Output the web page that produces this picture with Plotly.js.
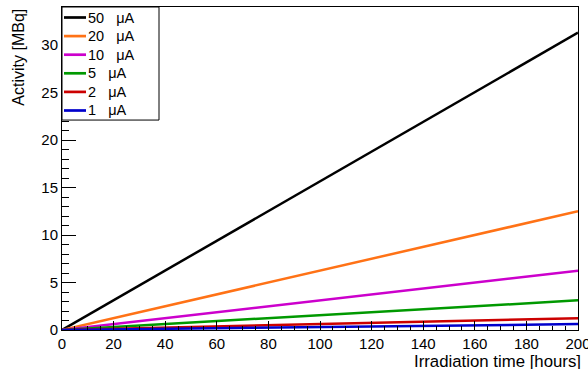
<!DOCTYPE html>
<html>
<head>
<meta charset="utf-8">
<script src="https://cdn.plot.ly/plotly-3.0.1.min.js"></script>
<style>html,body{margin:0;padding:0;background:#fff;overflow:hidden;}</style>
</head>
<body>
<div id="chart" style="width:588px;height:369px;"></div>
<script>
// Data
const hours = [0, 50, 100, 150, 200];
const seriesNames = ["50\u00a0\u00a0\u00a0\u03bcA", "20\u00a0\u00a0\u00a0\u03bcA", "10\u00a0\u00a0\u00a0\u03bcA", "5\u00a0\u00a0\u00a0\u03bcA", "2\u00a0\u00a0\u00a0\u03bcA", "1\u00a0\u00a0\u00a0\u03bcA"];
const act50 = [0, 7.83, 15.65, 23.48, 31.3];
const act20 = [0, 3.13, 6.26, 9.39, 12.5];
const act10 = [0, 1.56, 3.13, 4.69, 6.25];
const act5  = [0, 0.78, 1.56, 2.34, 3.12];
const act2  = [0, 0.31, 0.63, 0.94, 1.25];
const act1  = [0, 0.16, 0.31, 0.47, 0.62];
const seriesValues = [act50, act20, act10, act5, act2, act1];
const seriesColors = ["#000000", "#ff7216", "#cc00cc", "#009900", "#cc0000", "#0000cc"];

const FONT = "Liberation Sans, Arial, Helvetica, sans-serif";

const traces = seriesValues.map((vals, i) => ({
  x: hours, y: vals, type: "scatter", mode: "lines",
  name: seriesNames[i],
  line: {color: seriesColors[i], width: 2.5},
  showlegend: false, hoverinfo: "skip"
}));

// Manual ROOT-style legend (paper coordinates)
const shapes = [{
  type: "rect", xref: "paper", yref: "paper",
  x0: 0, x1: 0.188, y0: 0.65, y1: 1,
  line: {color: "#000", width: 1}, fillcolor: "rgba(255,255,255,1)", layer: "above"
}];
const annotations = [];
seriesNames.forEach((nm, i) => {
  const yc = 1 - (10.5 + i * 18.6) / 323;
  shapes.push({
    type: "line", xref: "paper", yref: "paper",
    x0: 2 / 516, x1: 24 / 516, y0: yc, y1: yc,
    line: {color: seriesColors[i], width: 2.7}, layer: "above"
  });
  annotations.push({
    xref: "paper", yref: "paper", x: 24 / 516, y: yc,
    xanchor: "left", yanchor: "middle", showarrow: false,
    text: nm, font: {family: FONT, size: 14.5, color: "#000"}
  });
});

// Axis titles (ROOT style: right/top aligned)
annotations.push({
  xref: "paper", yref: "paper", x: 1.009, y: -0.099,
  xanchor: "right", yanchor: "middle", showarrow: false,
  text: "Irradiation time [hours]", font: {family: FONT, size: 16.8, color: "#000"}
});
annotations.push({
  xref: "paper", yref: "paper", x: -0.085, y: 1.0,
  xanchor: "center", yanchor: "top", showarrow: false, textangle: -90,
  text: "Activity [MBq]", font: {family: FONT, size: 16, color: "#000"}
});

const layout = {
  width: 588, height: 369,
  margin: {l: 62, r: 10, t: 7, b: 39},
  paper_bgcolor: "#fff", plot_bgcolor: "#fff",
  font: {family: FONT, size: 15, color: "#000"},
  showlegend: false,
  xaxis: {
    range: [0, 200], dtick: 20, tick0: 0,
    ticks: "inside", ticklen: 9, tickwidth: 1, tickcolor: "#000",
    minor: {dtick: 5, ticks: "inside", ticklen: 4.5, tickcolor: "#000", showgrid: false},
    showline: true, linecolor: "#000", linewidth: 1, mirror: true,
    showgrid: false, zeroline: false,
    tickfont: {family: FONT, size: 15, color: "#000"},
    ticklabelstandoff: 0, ticklabeloverflow: "allow"
  },
  yaxis: {
    range: [0, 34], dtick: 5, tick0: 0,
    ticks: "inside", ticklen: 14, tickwidth: 1, tickcolor: "#000",
    minor: {dtick: 1, ticks: "inside", ticklen: 7, tickcolor: "#000", showgrid: false},
    showline: true, linecolor: "#000", linewidth: 1, mirror: true,
    showgrid: false, zeroline: false,
    tickfont: {family: FONT, size: 15, color: "#000"},
    ticklabelstandoff: 0, ticklabeloverflow: "allow"
  },
  shapes: shapes,
  annotations: annotations
};

Plotly.newPlot("chart", traces, layout, {staticPlot: true, displayModeBar: false});
</script>
</body>
</html>
